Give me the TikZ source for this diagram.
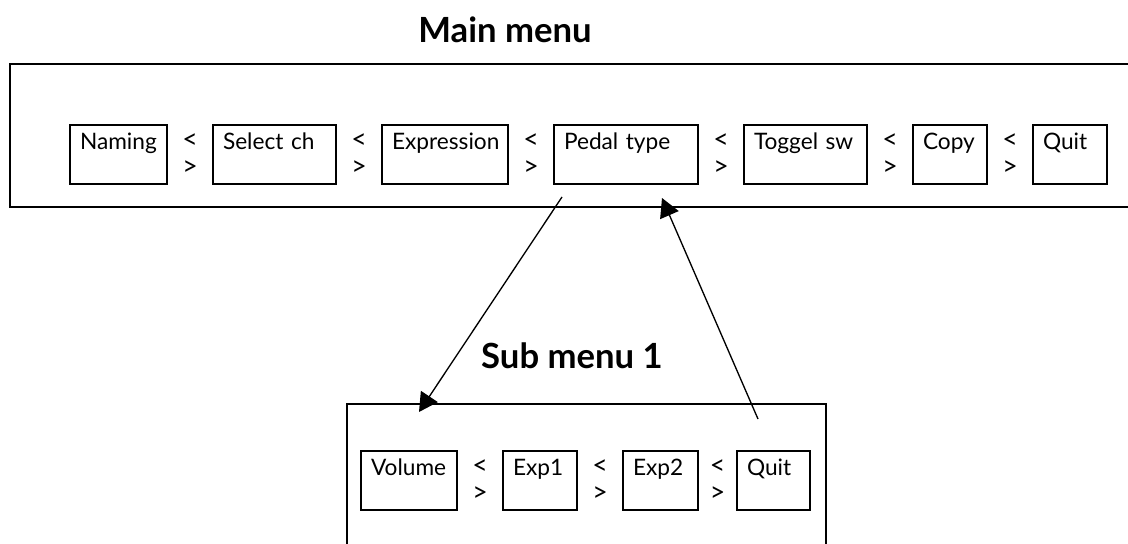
\documentclass[tikz,border=0pt]{standalone}
\usepackage{fontspec}
\setmainfont{Lato}
\usepackage{tikz}
\usetikzlibrary{arrows.meta, positioning}

\begin{document}
\begin{tikzpicture}[x=0.75pt,y=-0.75pt,node distance=0pt]
    \tikzstyle{menubox}=[draw,line width=1.5pt,anchor=north west,inner ysep=0pt,inner xsep=7.5pt,outer sep=0pt,
        text height=18pt,text depth=26.25pt,align=left,text width={(#1-20)*0.75pt},
        font=\fontsize{17}{20}\selectfont]
    \tikzstyle{swap}=[inner sep=0pt,outer sep=0pt,minimum width=34.5pt,align=center,font=\fontsize{20}{20}\selectfont]
    \tikzstyle{title}=[anchor=base,font=\fontsize{26}{30}\selectfont\bfseries]
    \tikzstyle{frame}=[line width=1.5pt]
    \tikzstyle{link}=[line width=1pt,-{Triangle[length=14pt,width=15pt]}]

    \useasboundingbox (0,0) rectangle (1128,543);
    \clip (0,0) rectangle (1128,543);

    % main menu
    \node[title] (Tmain) at (505,42) {Main menu};
    \draw[frame] (10,64) rectangle (1140,207);

    \node[menubox=97] (M1) at (70,125) {Naming};
    \node[swap, right=of M1] (MS1) {<\\>};
    \node[menubox=123, right=of MS1.east] (M2) {Select ch};
    \node[swap, right=of M2] (MS2) {<\\>};
    \node[menubox=126, right=of MS2.east] (M3) {Expression};
    \node[swap, right=of M3] (MS3) {<\\>};
    \node[menubox=144, right=of MS3.east] (M4) {Pedal type};
    \node[swap, right=of M4] (MS4) {<\\>};
    \node[menubox=123, right=of MS4.east] (M5) {Toggel sw};
    \node[swap, right=of M5] (MS5) {<\\>};
    \node[menubox=74, right=of MS5.east] (M6) {Copy};
    \node[swap, right=of M6] (MS6) {<\\>};
    \node[menubox=74, right=of MS6.east] (M7) {Quit};

    % sub menu
    \node[title] (Tsub) at (572,368) {Sub menu 1};
    \draw[frame] (347,404) rectangle (826,560);

    \node[menubox=96] (S1) at (361,451) {Volume};
    \node[swap, right=of S1] (SS1) {<\\>};
    \node[menubox=74, right=of SS1.east] (S2) {Exp1};
    \node[swap, right=of S2] (SS2) {<\\>};
    \node[menubox=75, right=of SS2.east] (S3) {Exp2};
    \node[swap, right=of S3, minimum width=29.25pt] (SS3) {<\\>};
    \node[menubox=73, right=of SS3.east] (S4) {Quit};

    \coordinate (pedalout) at ([shift={(8,13)}]M4.south west);
    \coordinate (pedalin) at ([shift={(108,14)}]M4.south west);
    \coordinate (volin) at ([shift={(58,-39)}]S1.north west);
    \coordinate (quitout) at ([shift={(21,-32)}]S4.north west);

    \draw[link] (pedalout) -- (volin);
    \draw[link] (quitout) -- (pedalin);
\end{tikzpicture}
\end{document}
